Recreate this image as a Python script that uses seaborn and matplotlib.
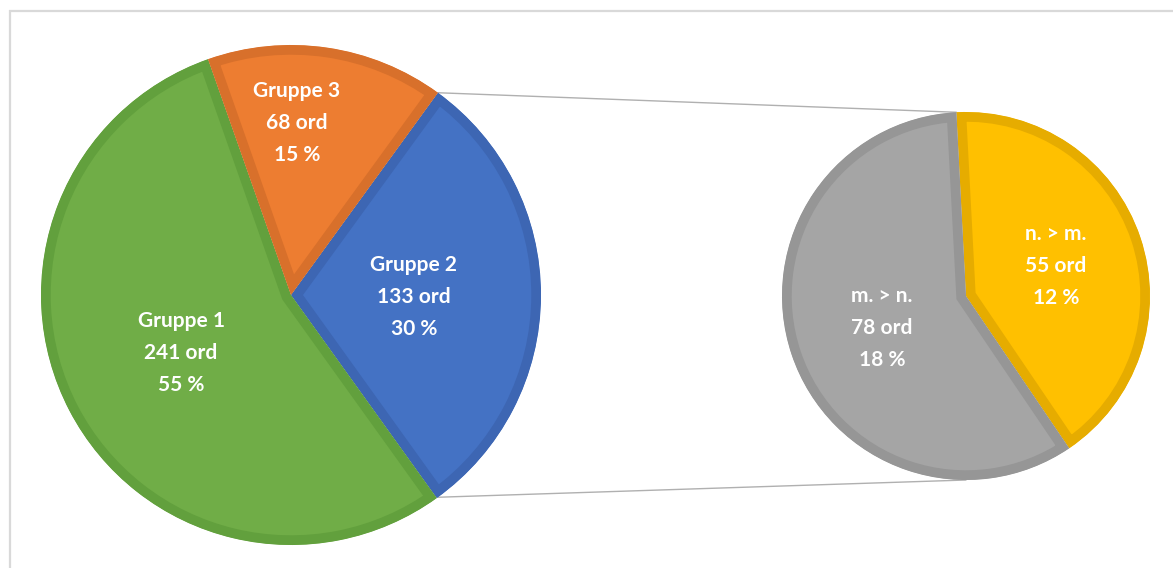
import matplotlib
matplotlib.use("Agg")
import matplotlib.pyplot as plt
import seaborn as sns
import numpy as np

# ---- data ----
main_labels = ["Gruppe 2", "Gruppe 1", "Gruppe 3"]
main_values = [133, 241, 68]
main_pcts = ["30 %", "55 %", "15 %"]
sub_labels = ["n. > m.", "m. > n."]
sub_values = [55, 78]
sub_pcts = ["12 %", "18 %"]

main_colors = ["#4472c4", "#70ad47", "#ed7d31"]
main_edges = ["#3d66b3", "#62a03d", "#d8702b"]
sub_colors = ["#ffc000", "#a5a5a5"]
sub_edges = ["#e6ac00", "#969696"]

sns.set_theme(style="white")
plt.rcParams['font.family'] = ['Lato', 'DejaVu Sans']

W, H = 1173, 568
fig = plt.figure(figsize=(W / 100, H / 100), dpi=100)
ax = fig.add_axes([0, 0, 1, 1])

big_c = (291, H - 295)
big_r = 250
small_c = (966, H - 296)
small_r = 184

wedges, _ = ax.pie(main_values, colors=main_colors, startangle=54, counterclock=False,
                   center=big_c, radius=big_r, frame=False)
swedges, _ = ax.pie(sub_values, colors=sub_colors, startangle=93, counterclock=False,
                    center=small_c, radius=small_r, frame=False)

ax.set_xlim(0, W)
ax.set_ylim(0, H)
ax.set_aspect('equal')
ax.axis('off')

for w, ec in zip(list(wedges) + list(swedges), main_edges + sub_edges):
    w.set_edgecolor(ec)
    w.set_linewidth(14)
    w.set_clip_on(True)
    w.set_clip_path(w)

# connector lines
a1 = np.deg2rad(54)
p_top = (big_c[0] + big_r * np.cos(a1), big_c[1] + big_r * np.sin(a1))
p_bot = (big_c[0] + big_r * np.cos(a1), big_c[1] - big_r * np.sin(a1))
a2 = np.deg2rad(93)
q_top = (small_c[0] + small_r * np.cos(a2), small_c[1] + small_r * np.sin(a2))
q_bot = (small_c[0], small_c[1] - small_r)
ax.plot([p_top[0], q_top[0]], [p_top[1], q_top[1]], color="#b0b0b0", lw=1, zorder=0)
ax.plot([p_bot[0], q_bot[0]], [p_bot[1], q_bot[1]], color="#b0b0b0", lw=1, zorder=0)

# labels
tkw = dict(color="white", fontsize=15, ha="center", va="center", linespacing=1.72,
           fontweight="bold")
main_pos = [(414, 297), (181, 353), (297, 123)]
for (x, y), lab, v, p in zip(main_pos, main_labels, main_values, main_pcts):
    ax.text(x, H - y, f"{lab}\n{v} ord\n{p}", **tkw)
sub_pos = [(1056, 266), (882, 328)]
for (x, y), lab, v, p in zip(sub_pos, sub_labels, sub_values, sub_pcts):
    ax.text(x, H - y, f"{lab}\n{v} ord\n{p}", **tkw)

# chart frame (top and left edge visible)
ax.plot([9, W], [H - 11, H - 11], color="#d9d9d9", lw=1.6, zorder=0, solid_capstyle="butt")
ax.plot([10, 10], [H - 10, 0], color="#d9d9d9", lw=1.6, zorder=0, solid_capstyle="butt")

fig.savefig("out.png", dpi=100)
